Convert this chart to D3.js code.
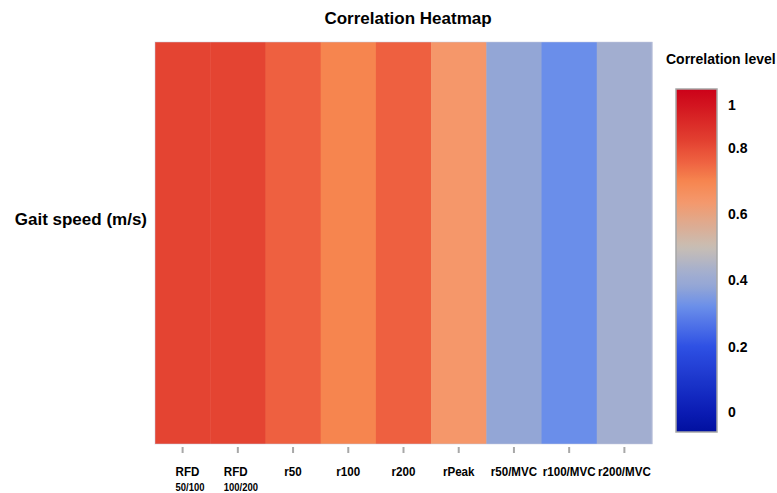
<!DOCTYPE html>
<html>
<head>
<meta charset="utf-8">
<script src="https://cdn.jsdelivr.net/npm/d3@7"></script>
<style>
  html, body { margin: 0; padding: 0; background: #fff; }
  svg { display: block; font-family: "Liberation Sans", Arial, sans-serif; }
</style>
</head>
<body>
<svg id="chart" width="777" height="493"></svg>
<script>
// ---- data ----
const rowLabels = ["Gait speed (m/s)"];
const categories = ["RFD 50/100", "RFD 100/200", "r50", "r100", "r200", "rPeak", "r50/MVC", "r100/MVC", "r200/MVC"];
const labelLines = [["RFD", "50/100"], ["RFD", "100/200"], ["r50"], ["r100"], ["r200"], ["rPeak"], ["r50/MVC"], ["r100/MVC"], ["r200/MVC"]];
const correlations = [0.82, 0.82, 0.76, 0.70, 0.76, 0.64, 0.38, 0.32, 0.42];
const legendTicks = [0, 0.2, 0.4, 0.6, 0.8, 1];
const legendTickLabels = ["0", "0.2", "0.4", "0.6", "0.8", "1"];
const colorStopValues = [-0.07, 0, 0.2, 0.32, 0.38, 0.42, 0.5, 0.64, 0.70, 0.76, 0.82, 1, 1.08];
const colorStopColors = ["#000e9c", "#0a1cb4", "#2e50e4", "#6a8eea", "#93a6d6", "#a2aed0", "#c8beb4",
                         "#f5976a", "#f6854f", "#ee6040", "#e44432", "#d2141f", "#cc0019"];

// ---- setup ----
const svg = d3.select("#chart");
const plot = { left: 155, right: 652, top: 42, bottom: 444 };

const x = d3.scaleBand().domain(categories).range([plot.left, plot.right]).padding(0);
const y = d3.scaleBand().domain(rowLabels).range([plot.top, plot.bottom]).padding(0);
const color = d3.scaleLinear().domain(colorStopValues).range(colorStopColors)
  .interpolate(d3.interpolateRgb).clamp(true);

const cells = categories.map((c, i) => ({ row: rowLabels[0], col: c, v: correlations[i], lines: labelLines[i] }));

// title
svg.append("text")
  .attr("x", 408).attr("y", 24)
  .attr("text-anchor", "middle")
  .attr("font-size", 17).attr("font-weight", "bold").attr("fill", "#000")
  .text("Correlation Heatmap");

// cells
svg.append("g").selectAll("rect").data(cells).join("rect")
  .attr("x", d => x(d.col))
  .attr("y", d => y(d.row))
  .attr("width", x.bandwidth() + 0.5)
  .attr("height", y.bandwidth())
  .attr("fill", d => color(d.v));

// outline
svg.append("rect")
  .attr("x", plot.left).attr("y", plot.top)
  .attr("width", plot.right - plot.left).attr("height", plot.bottom - plot.top)
  .attr("fill", "none").attr("stroke", "rgba(200,205,225,0.5)").attr("stroke-width", 1);

// y label
svg.append("g").selectAll("text").data(rowLabels).join("text")
  .attr("x", 147)
  .attr("y", d => y(d) + y.bandwidth() * 0.44 + 6)
  .attr("text-anchor", "end")
  .attr("font-size", 17).attr("font-weight", "bold").attr("fill", "#000")
  .text(d => d);

// x axis ticks
const xAxis = d3.axisBottom(x).tickSizeInner(6).tickSizeOuter(0).tickFormat("");
const gx = svg.append("g").attr("transform", `translate(0,${plot.bottom + 3})`).call(xAxis);
gx.select(".domain").remove();
gx.selectAll(".tick line").attr("stroke", "#a8a8a8").attr("stroke-width", 2);

// x labels (condensed bold)
const xl = svg.append("g").selectAll("g").data(cells).join("g")
  .attr("transform", d => `translate(${x(d.col) + x.bandwidth() / 2},0)`);
xl.each(function (d) {
  const g = d3.select(this);
  if (d.lines.length === 1) {
    g.append("text")
      .attr("transform", "translate(0,476) scale(0.86,1)")
      .attr("text-anchor", "middle").attr("font-size", 13.5).attr("font-weight", "bold").attr("fill", "#000")
      .text(d.lines[0]);
  } else {
    const off = d.lines[1].length > 6 ? -14 : -7;
    g.append("text")
      .attr("transform", `translate(${off},476) scale(0.86,1)`)
      .attr("text-anchor", "start").attr("font-size", 13.5).attr("font-weight", "bold").attr("fill", "#000")
      .text(d.lines[0]);
    g.append("text")
      .attr("transform", `translate(${off},491) scale(0.86,1)`)
      .attr("text-anchor", "start").attr("font-size", 11).attr("font-weight", "bold").attr("fill", "#000")
      .text(d.lines[1]);
  }
});

// legend
const legend = { left: 676, right: 717, top: 89, bottom: 432 };
const ly = d3.scaleLinear().domain(legendTicks).range([412, 347, 280, 214, 148, 105]);

svg.append("text")
  .attr("x", 666).attr("y", 64)
  .attr("font-size", 14).attr("font-weight", "bold").attr("fill", "#000")
  .text("Correlation level");

const defs = svg.append("defs");
const grad = defs.append("linearGradient").attr("id", "lg")
  .attr("x1", 0).attr("y1", 0).attr("x2", 0).attr("y2", 1);
const N = 60;
d3.range(N + 1).forEach(i => {
  const yy = legend.top + (legend.bottom - legend.top) * i / N;
  grad.append("stop").attr("offset", (i / N * 100) + "%").attr("stop-color", color(ly.invert(yy)));
});

svg.append("rect")
  .attr("x", legend.left).attr("y", legend.top)
  .attr("width", legend.right - legend.left).attr("height", legend.bottom - legend.top)
  .attr("fill", "url(#lg)").attr("stroke", "#a6a6a6").attr("stroke-width", 1.5);

svg.append("g").selectAll("text").data(legendTicks).join("text")
  .attr("x", 728)
  .attr("y", d => ly(d) + 5)
  .attr("font-size", 14).attr("font-weight", "bold").attr("fill", "#000")
  .text((d, i) => legendTickLabels[i]);
</script>
</body>
</html>
